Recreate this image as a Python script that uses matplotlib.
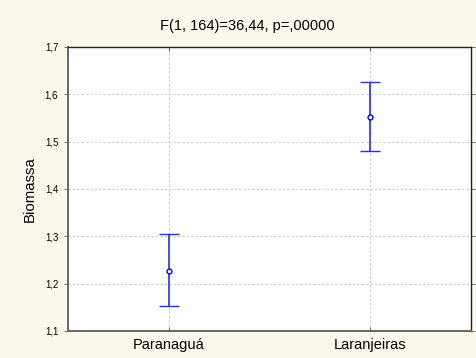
import matplotlib.pyplot as plt
from matplotlib.ticker import FuncFormatter

plt.rcParams['font.family'] = ['Liberation Sans', 'DejaVu Sans']

# data
sites = ['Paranaguá', 'Laranjeiras']
means = [1.227, 1.552]
upper = [1.305, 1.625]
lower = [1.153, 1.480]

yticks = [1.1, 1.2, 1.3, 1.4, 1.5, 1.6, 1.7]

fig = plt.figure(figsize=(4.76, 3.58), dpi=100, facecolor='#fdf8ec')
ax = fig.add_axes([68 / 476, 1 - 331 / 358, 403 / 476, 284 / 358])
ax.set_facecolor('white')

x = list(range(len(sites)))
err = [[m - l for m, l in zip(means, lower)], [u - m for m, u in zip(means, upper)]]
ax.errorbar(x, means, yerr=err, fmt='o', color='#1a1aff', ecolor='#2a2aff',
            elinewidth=1.2, capsize=7.3, capthick=1.2, markersize=3.5,
            markerfacecolor='white', markeredgecolor='#0000ff', markeredgewidth=1)

ax.set_xlim(-0.5, 1.5)
ax.set_ylim(1.1, 1.7)
ax.set_xticks(x)
ax.set_xticklabels(sites, fontsize=10.5)
ax.set_yticks(yticks)
ax.yaxis.set_major_formatter(FuncFormatter(lambda v, p: f'{v:.1f}'.replace('.', ',')))
ax.tick_params(axis='y', labelsize=7, length=3, width=0.6, color='#555555', right=True,
               direction='out', pad=4)
ax.tick_params(axis='x', length=3, width=0.6, color='#555555', top=True, direction='in',
               pad=5)
ax.grid(True, color='#cccccc', linestyle=(0, (2.5, 2)), linewidth=0.7)
ax.set_axisbelow(True)

for side in ['left', 'bottom']:
    ax.spines[side].set_color('#666666')
    ax.spines[side].set_linewidth(1.4)
for side in ['top', 'right']:
    ax.spines[side].set_color('#222222')
    ax.spines[side].set_linewidth(1.0)

ax.set_ylabel('Biomassa', fontsize=10.8, labelpad=6)
fig.text(247 / 476, 1 - 26 / 358, 'F(1, 164)=36,44, p=,00000', fontsize=10.5,
         ha='center', va='center')

fig.savefig('out.png', dpi=100, facecolor=fig.get_facecolor())
